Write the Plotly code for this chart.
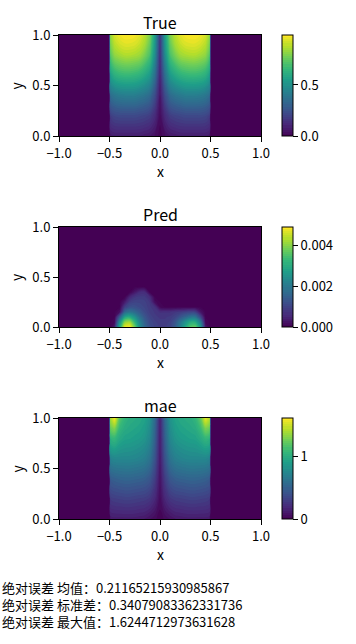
import plotly.graph_objects as go

# ---------------- data ----------------
x_grid = [-1, -0.5, -0.49, -0.45, -0.4, -0.35, -0.3, -0.25, -0.2, -0.15, -0.1, -0.05, 0,
          0.05, 0.1, 0.15, 0.2, 0.25, 0.3, 0.35, 0.4, 0.45, 0.49, 0.5, 1]

y_grid_true = [0, 0.2, 0.4, 0.6, 0.8, 0.9, 1.0]
true_rows = [
    [0, 0, 0.07, 0.08, 0.08, 0.08, 0.08, 0.08, 0.08, 0.07, 0.06, 0.04, 0.01, 0.04, 0.06, 0.07, 0.08, 0.08, 0.08, 0.08, 0.08, 0.08, 0.07, 0, 0],
    [0, 0, 0.18, 0.21, 0.22, 0.22, 0.22, 0.22, 0.21, 0.20, 0.18, 0.12, 0.03, 0.12, 0.18, 0.20, 0.21, 0.22, 0.22, 0.22, 0.22, 0.21, 0.18, 0, 0],
    [0, 0, 0.35, 0.39, 0.41, 0.42, 0.42, 0.42, 0.40, 0.38, 0.34, 0.23, 0.06, 0.23, 0.34, 0.38, 0.40, 0.42, 0.42, 0.42, 0.41, 0.39, 0.35, 0, 0],
    [0, 0, 0.55, 0.62, 0.65, 0.66, 0.66, 0.65, 0.63, 0.59, 0.53, 0.36, 0.10, 0.36, 0.53, 0.59, 0.63, 0.65, 0.66, 0.66, 0.65, 0.62, 0.55, 0, 0],
    [0, 0, 0.73, 0.82, 0.85, 0.87, 0.87, 0.86, 0.84, 0.78, 0.70, 0.48, 0.13, 0.48, 0.70, 0.78, 0.84, 0.86, 0.87, 0.87, 0.85, 0.82, 0.73, 0, 0],
    [0, 0, 0.79, 0.88, 0.92, 0.94, 0.94, 0.93, 0.90, 0.85, 0.75, 0.52, 0.14, 0.52, 0.75, 0.85, 0.90, 0.93, 0.94, 0.94, 0.92, 0.88, 0.79, 0, 0],
    [0, 0, 0.83, 0.93, 0.97, 0.99, 0.99, 0.98, 0.95, 0.89, 0.79, 0.54, 0.15, 0.54, 0.79, 0.89, 0.95, 0.98, 0.99, 0.99, 0.97, 0.93, 0.83, 0, 0],
]

y_grid_pred = [0, 0.05, 0.1, 0.15, 0.2, 0.25, 0.3, 0.35, 0.4, 1.0]
pred_rows_milli = [
    [0, 0, 0, 0.4, 2.9, 4.7, 4.85, 3.8, 2.4, 1.6, 1.2, 1.0, 0.9, 0.9, 1.0, 1.4, 2.1, 2.9, 3.6, 3.7, 2.7, 0.3, 0, 0, 0],
    [0, 0, 0, 0.1, 2.4, 4.0, 4.2, 3.2, 2.2, 1.5, 1.1, 0.95, 0.85, 0.85, 0.95, 1.3, 1.9, 2.5, 3.0, 3.0, 2.1, 0.1, 0, 0, 0],
    [0, 0, 0, 0, 1.4, 2.8, 3.0, 2.5, 1.8, 1.3, 1.0, 0.85, 0.8, 0.8, 0.85, 1.0, 1.3, 1.6, 1.9, 1.9, 1.1, 0, 0, 0, 0],
    [0, 0, 0, 0, 0.2, 1.6, 1.9, 1.7, 1.4, 1.1, 0.9, 0.8, 0.7, 0.7, 0.7, 0.8, 0.85, 0.95, 1.0, 0.95, 0.3, 0, 0, 0, 0],
    [0, 0, 0, 0, 0, 0.9, 1.2, 1.2, 1.1, 1.0, 0.85, 0.7, 0.1, 0, 0, 0, 0, 0, 0, 0, 0, 0, 0, 0, 0],
    [0, 0, 0, 0, 0, 0.35, 0.9, 1.0, 1.0, 0.95, 0.8, 0.15, 0, 0, 0, 0, 0, 0, 0, 0, 0, 0, 0, 0, 0],
    [0, 0, 0, 0, 0, 0, 0.5, 0.8, 0.85, 0.85, 0.6, 0, 0, 0, 0, 0, 0, 0, 0, 0, 0, 0, 0, 0, 0],
    [0, 0, 0, 0, 0, 0, 0, 0.3, 0.6, 0.6, 0, 0, 0, 0, 0, 0, 0, 0, 0, 0, 0, 0, 0, 0, 0],
    [0] * 25,
    [0] * 25,
]

y_grid_mae = [0, 0.2, 0.4, 0.6, 0.8, 0.9, 1.0]
mae_rows = [
    [0, 0, 0.11, 0.12, 0.12, 0.12, 0.12, 0.12, 0.11, 0.10, 0.07, 0.04, 0.02, 0.04, 0.07, 0.10, 0.11, 0.12, 0.12, 0.12, 0.12, 0.12, 0.11, 0, 0],
    [0, 0, 0.28, 0.30, 0.31, 0.32, 0.32, 0.31, 0.30, 0.29, 0.26, 0.18, 0.05, 0.18, 0.26, 0.29, 0.30, 0.31, 0.32, 0.32, 0.31, 0.30, 0.28, 0, 0],
    [0, 0, 0.47, 0.50, 0.52, 0.53, 0.53, 0.52, 0.51, 0.49, 0.44, 0.30, 0.08, 0.30, 0.44, 0.49, 0.51, 0.52, 0.53, 0.53, 0.52, 0.50, 0.47, 0, 0],
    [0, 0, 0.72, 0.76, 0.76, 0.76, 0.76, 0.75, 0.73, 0.70, 0.62, 0.42, 0.11, 0.42, 0.62, 0.70, 0.73, 0.75, 0.76, 0.76, 0.76, 0.76, 0.72, 0, 0],
    [0, 0, 1.05, 1.08, 0.98, 0.93, 0.92, 0.90, 0.88, 0.84, 0.75, 0.50, 0.13, 0.50, 0.75, 0.84, 0.88, 0.90, 0.92, 0.93, 0.99, 1.07, 1.05, 0, 0],
    [0, 0, 1.25, 1.32, 1.08, 1.00, 0.97, 0.95, 0.93, 0.89, 0.79, 0.53, 0.14, 0.53, 0.79, 0.89, 0.93, 0.95, 0.97, 1.00, 1.10, 1.30, 1.25, 0, 0],
    [0, 0, 1.42, 1.62, 1.20, 1.07, 1.01, 0.99, 0.97, 0.93, 0.83, 0.56, 0.15, 0.56, 0.83, 0.93, 0.97, 0.99, 1.01, 1.07, 1.22, 1.58, 1.45, 0, 0],
]

titles = ["True", "Pred", "mae"]
axis_ticks = [-1.0, -0.5, 0.0, 0.5, 1.0]
y_ticks = [0.0, 0.5, 1.0]
cbar_max = [0.99, 0.0049, 1.6245]
cbar_ticks = [[0.0, 0.5], [0.0, 0.002, 0.004], [0, 1]]
cbar_formats = [".1f", ".3f", "d"]
stats_lines = [
    "绝对误差 均值：0.21165215930985867",
    "绝对误差 标准差：0.34079083362331736",
    "绝对误差 最大值：1.6244712973631628",
]

# ---------------- layout geometry (pixels) ----------------
W, H = 356, 644
FONT = "Noto Sans CJK SC"
ax_left, ax_right = 59, 261
panels_px = [(35, 136), (227, 327), (418, 519)]   # (top, bottom)
cb_left, cb_w = 282, 11
stats_y_px = [587, 604, 621]


def py(p):
    return 1 - p / H


pred_z = [[v * 1e-3 for v in row] for row in pred_rows_milli]
fields = [(y_grid_true, true_rows), (y_grid_pred, pred_z), (y_grid_mae, mae_rows)]

fig = go.Figure()
annotations = []
for i, ((yg, z), (top, bot)) in enumerate(zip(fields, panels_px)):
    n = "" if i == 0 else str(i + 1)
    zmax = cbar_max[i]
    fig.add_trace(go.Contour(
        x=x_grid, y=yg, z=z,
        xaxis="x" + n, yaxis="y" + n,
        colorscale="Viridis", zmin=0, zmax=zmax,
        autocontour=False,
        contours=dict(start=0, end=zmax, size=zmax / 48, coloring="fill", showlines=False),
        line=dict(width=0),
        colorbar=dict(
            x=cb_left / W, xanchor="left", xpad=0, ypad=0,
            y=py((top + bot) / 2), yanchor="middle",
            len=(bot - top) / H, lenmode="fraction",
            thickness=cb_w, thicknessmode="pixels",
            outlinewidth=1, outlinecolor="black",
            ticks="outside", ticklen=5, tickwidth=1, tickcolor="black",
            tickvals=cbar_ticks[i], tickformat=cbar_formats[i],
            tickfont=dict(family=FONT, size=13, color="black"),
        ),
        hoverinfo="skip",
    ))
    common = dict(showline=True, linecolor="black", linewidth=1, mirror=True,
                  ticks="outside", ticklen=5, tickwidth=1, tickcolor="black",
                  showgrid=False, zeroline=False, automargin=False,
                  tickfont=dict(family=FONT, size=13, color="black"))
    fig.update_layout(**{
        "xaxis" + n: dict(domain=[ax_left / W, ax_right / W], range=[-1, 1],
                          tickvals=axis_ticks, tickformat=".1f",
                          anchor="y" + n, **common),
        "yaxis" + n: dict(domain=[py(bot), py(top)], range=[0, 1],
                          tickvals=y_ticks, tickformat=".1f",
                          anchor="x" + n, **common),
    })
    cx = (ax_left + ax_right) / 2
    annotations.append(dict(text=titles[i], x=cx / W, y=py(top - 13), xref="paper", yref="paper",
                             xanchor="center", yanchor="middle", showarrow=False,
                             font=dict(family=FONT, size=16, color="black")))
    annotations.append(dict(text="x", x=cx / W, y=py(bot + 35), xref="paper", yref="paper",
                            xanchor="center", yanchor="middle", showarrow=False,
                            font=dict(family=FONT, size=14, color="black")))
    annotations.append(dict(text="y", x=16 / W, y=py((top + bot) / 2), xref="paper", yref="paper",
                            xanchor="center", yanchor="middle", showarrow=False, textangle=-90,
                            font=dict(family=FONT, size=14, color="black")))

for line, ypx in zip(stats_lines, stats_y_px):
    annotations.append(dict(text=line, x=0, y=py(ypx), xref="paper", yref="paper",
                            xanchor="left", yanchor="middle", align="left", showarrow=False,
                            font=dict(family=FONT, size=13, color="black")))

fig.update_layout(width=W, height=H, margin=dict(l=0, r=0, t=0, b=0, autoexpand=False),
                  paper_bgcolor="white", plot_bgcolor="white",
                  showlegend=False, annotations=annotations)

fig.write_html("out.html", config={"displayModeBar": False},
               post_script="document.body.style.margin='0';document.body.style.overflow='hidden';")
